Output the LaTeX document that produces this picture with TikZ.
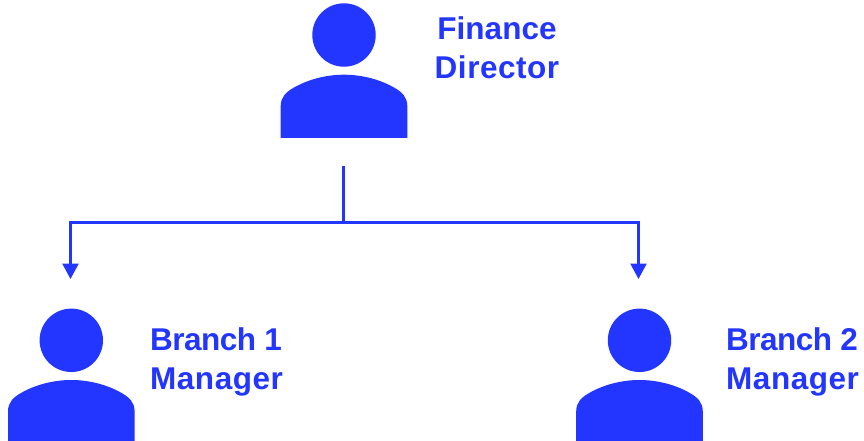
\documentclass[tikz,border=0pt]{standalone}
\usepackage{fontspec}
\setmainfont{Liberation Sans}
\usetikzlibrary{arrows.meta}
\definecolor{brandblue}{HTML}{2236FF}
\newcommand{\wider}[1]{{\addfontfeature{LetterSpace=1.7}#1}}
\newcommand{\tighter}[1]{{\addfontfeature{LetterSpace=-1.6}#1}}
\tikzset{
 x=1pt,y=-1pt,
 lbl/.style={text=brandblue,font=\fontsize{31.5}{39}\selectfont\bfseries,align=left,anchor=west,inner sep=0pt},
 conn/.style={draw=brandblue,line width=2.4pt},
 arr/.style={conn,-{Triangle[length=15.5pt,width=16pt]}},
}
\newcommand{\person}[2]{%
 \fill[brandblue] (#1,#2) circle (31.7);
 \fill[brandblue] (#1-63.3,#2+104) -- (#1-63.3,#2+71) .. controls (#1-63.3,#2+62) and (#1-58,#2+57) .. (#1-50,#2+52.5) .. controls (#1-36,#2+44.5) and (#1-18,#2+39.7) .. (#1,#2+39.7) .. controls (#1+18,#2+39.7) and (#1+36,#2+44.5) .. (#1+50,#2+52.5) .. controls (#1+58,#2+57) and (#1+63.3,#2+62) .. (#1+63.3,#2+71) -- (#1+63.3,#2+104) -- cycle;
}
\begin{document}
\begin{tikzpicture}
\useasboundingbox (0,0) rectangle (864,440);
\clip (0,0) rectangle (864,440);
\begin{scope}
\clip (0,0) rectangle (864,137.7);
\person{344}{35}
\end{scope}
\person{71.3}{340.3}
\person{639.5}{340.3}
\node[lbl,align=center,anchor=center] (fd) at (497,48) {Finance\\\wider{Director}};
\node[lbl] (b1) at (150,362) {\tighter{Branch 1}\\\wider{Manager}};
\node[lbl] (b2) at (726,362) {\tighter{Branch 2}\\\wider{Manager}};
\coordinate (top) at (343.5,166);
\coordinate (junction) at (343.5,222.5);
\coordinate (left) at (70.5,279);
\coordinate (right) at (638.5,279);
\draw[conn] (top) -- (junction);
\draw[arr] (junction) -| (left);
\draw[arr] (junction) -| (right);
\end{tikzpicture}
\end{document}
